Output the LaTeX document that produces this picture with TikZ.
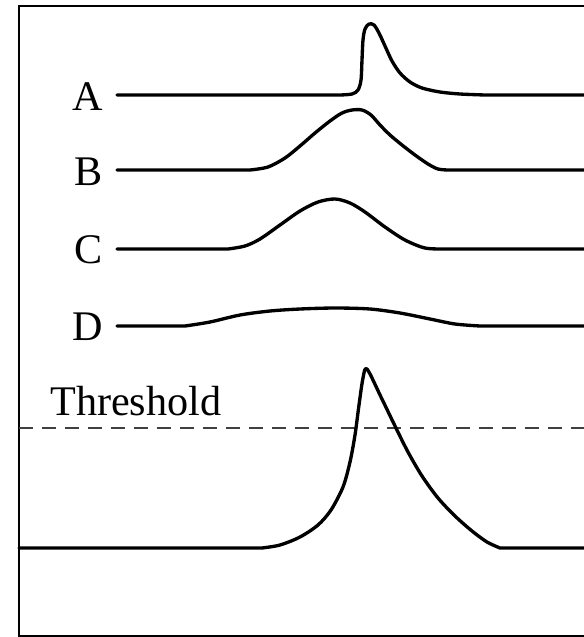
\documentclass[tikz,border=0pt]{standalone}
\usepackage{fontspec}
\setmainfont{Liberation Serif}
\usepackage{tikz}
\usetikzlibrary{positioning}
\tikzset{
  trace/.style={line width=1.9pt, line join=round, line cap=round},
  frameline/.style={line width=1.3pt},
  sigLabel/.style={inner sep=0pt, font=\fontsize{24}{28}\selectfont}
}

\begin{document}
\begin{tikzpicture}[x=0.02cm, y=-0.02cm]
        \useasboundingbox (0,0) rectangle (583,637);
        \draw[frameline] (590,6) -- (19,6) -- (19,636) -- (590,636);

        \node[sigLabel, anchor=base east] (labA) at (103,110) {A};
        \node[sigLabel, anchor=base east] (labB) at (103,185) {B};
        \node[sigLabel, anchor=base east] (labC) at (103,263) {C};
        \node[sigLabel, anchor=base east] (labD) at (103,340) {D};
        \node[sigLabel, anchor=base west] (thr) at (50,415) {Threshold};

        \draw[trace] (117,95) -- plot[smooth, tension=.5] coordinates {(340,95) (352,94) (358,90) (361,80) (362,60) (363,40) (365,29) (369,24) (374,25) (379,33) (385,46) (392,61) (400,73) (410,82) (422,88) (440,92) (460,94) (485,95)} -- (590,95);
        \draw[trace] (117,170) -- plot[smooth, tension=.5] coordinates {(250,170) (268,167) (285,158) (300,146) (315,133) (330,121) (342,113) (352,110) (362,110) (371,115) (380,125) (390,135) (402,145) (415,155) (428,164) (438,169) (448,170)} -- (590,170);
        \draw[trace] (117,249) -- plot[smooth, tension=.5] coordinates {(228,249) (245,246) (260,239) (280,225) (300,211) (318,202) (335,199) (350,203) (365,212) (385,227) (405,240) (425,248) (445,249)} -- (590,249);
        \draw[trace] (117,326) -- plot[smooth, tension=.5] coordinates {(185,326) (210,322) (240,315) (270,311) (300,309) (335,308) (370,309) (400,313) (430,319) (455,324) (480,326)} -- (590,326);

        \draw[line width=0.8pt, black!75, dash pattern=on 0.28cm off 0.18cm] (19,428) -- (590,428);

        \draw[trace] (19,548) -- plot[smooth, tension=.5] coordinates {(262,548) (280,545) (300,537) (318,525) (331,510) (343,487) (350,462) (355,435) (359,405) (363,378) (367,369) (381,397) (395,426) (408,452) (422,476) (438,498) (455,516) (472,531) (487,542) (500,548)} -- (590,548);
    \end{tikzpicture}
\end{document}
